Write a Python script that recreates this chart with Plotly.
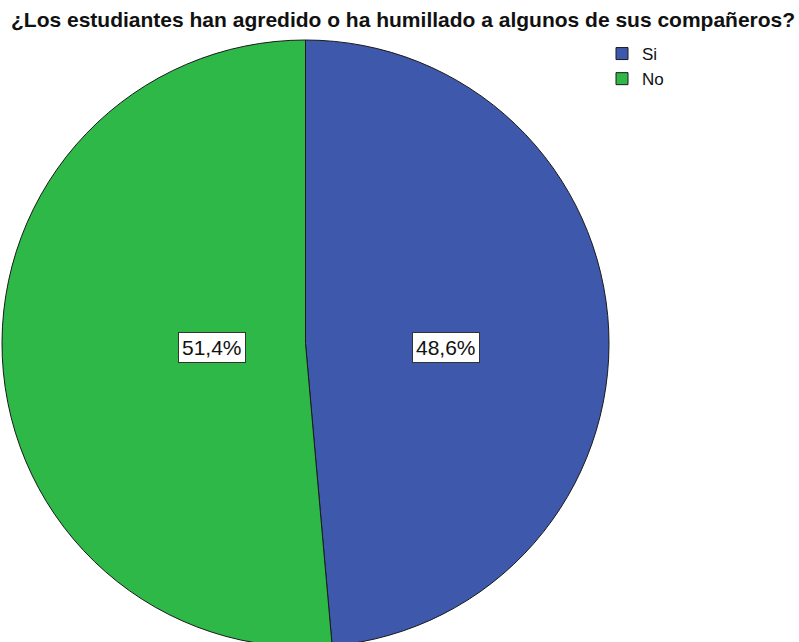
import plotly.graph_objects as go

labels = ["Si", "No"]
values = [48.6, 51.4]
colors = ["#3E58AC", "#2EB848"]
title = "¿Los estudiantes han agredido o ha humillado a algunos de sus compañeros?"

# figura algo más alta que la ventana: el círculo se corta abajo como en el original
W, H = 799, 650
cx, cy, r = 305.5, 343.5, 303.5

fig = go.Figure(go.Pie(
    labels=labels, values=values, sort=False, direction="clockwise", rotation=0,
    marker=dict(colors=colors, line=dict(color="#1a1a1a", width=1)),
    textinfo="none", hoverinfo="label+percent",
    domain=dict(x=[(cx - r) / W, (cx + r) / W], y=[(H - cy - r) / H, (H - cy + r) / H]),
))

# etiquetas de porcentaje en cajas blancas
total = sum(values)
label_pos = {"Si": (445.5, 347), "No": (177.5, 347)}
for lab, v in zip(labels, values):
    px, py = label_pos[lab]
    fig.add_annotation(
        x=px / W, y=1 - py / H, xref="paper", yref="paper",
        text=f"{v / total * 100:.1f}%".replace(".", ","), showarrow=False,
        font=dict(family="Liberation Sans, Arial", size=21, color="#111"),
        bgcolor="white", bordercolor="#333", borderwidth=1, borderpad=3,
    )

fig.update_layout(
    width=W, height=H, margin=dict(l=0, r=0, t=0, b=0),
    paper_bgcolor="white", plot_bgcolor="white",
    title=dict(text=f"<b>{title}</b>", x=11 / W, xanchor="left", y=1 - 20 / H, yanchor="middle",
               font=dict(family="Liberation Sans, Arial", size=21, color="#111")),
    legend=dict(x=602 / W, y=1 - 36 / H, xanchor="left", yanchor="top",
                font=dict(family="Liberation Sans, Arial", size=17, color="#111"),
                itemwidth=30, tracegroupgap=0, bgcolor="rgba(0,0,0,0)"),
)

fig.write_html("out.html", config={"displayModeBar": False},
               post_script="document.body.style.margin='0';document.body.style.overflow='hidden';")
